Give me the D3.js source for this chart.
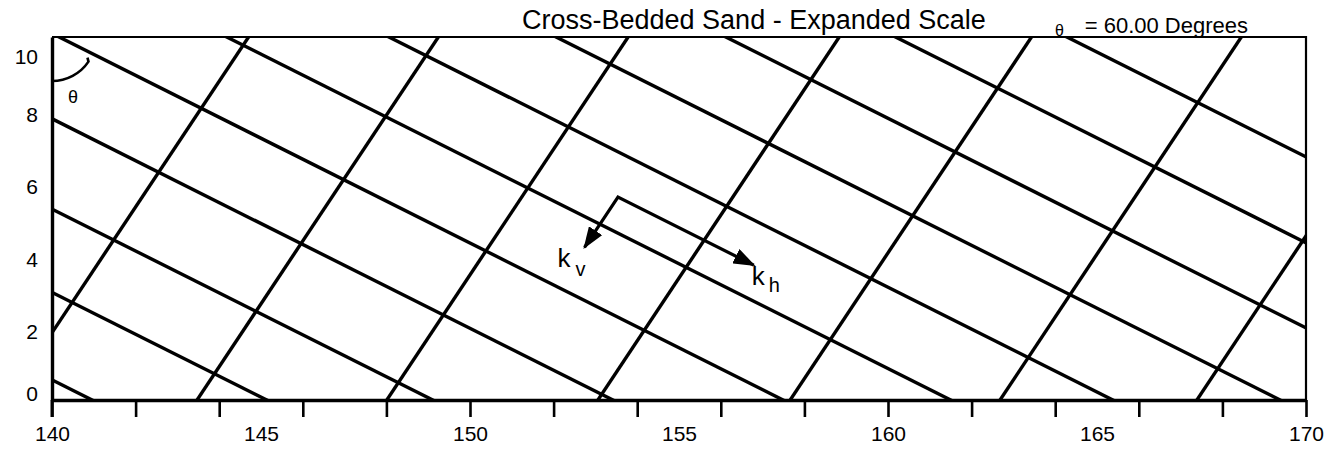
<!DOCTYPE html>
<html>
<head>
<meta charset="utf-8">
<script src="https://cdn.jsdelivr.net/npm/d3@7"></script>
<style>
  html, body { margin: 0; padding: 0; background: #fff; }
  svg { display: block; font-family: "Liberation Sans", Arial, Helvetica, sans-serif; }
</style>
</head>
<body>
<svg id="chart" width="1330" height="451"></svg>
<script>
// Bedding geometry: dip angle of the cross-beds and the two line families
const thetaDeg = 60;                 // angle between vertical and bedding planes
const xDomain = [140, 170];
const yDomain = [0, 10];

// x where each bedding plane (dipping family) crosses y = 0
const beddingIntercepts = [140.96, 145.14, 149.11, 153.42, 157.49, 161.5, 165.38, 169.38, 173.44, 177.5, 181.6];
// x where each cross line (perpendicular family) crosses y = 0
const crossIntercepts = [138.93, 143.47, 148.01, 153.06, 157.66, 162.68, 167.39];

// axis ticks and labels
const xTickValues = [140, 142, 144, 146, 148, 150, 152, 154, 156, 158, 160, 162, 164, 166, 168, 170];
const xLabelValues = [140, 145, 150, 155, 160, 165, 170];
const yLabelValues = [0, 2, 4, 6, 8, 10];

// permeability direction arrows: common origin, lengths along k_h and k_v
const arrowOrigin = [153.54, 5.59];
const khLength = 3.75;
const kvLength = 1.6;

const titleText = "Cross-Bedded Sand - Expanded Scale";
const angleText = "= 60.00 Degrees";

const svg = d3.select("#chart");
const margin = { left: 52, right: 24, top: 37, bottom: 51 };
const W = 1330, H = 451;

const x = d3.scaleLinear().domain(xDomain).range([margin.left, W - margin.right]);
const y = d3.scaleLinear().domain(yDomain).range([H - margin.bottom, margin.top]);

const dipRad = (90 - thetaDeg) * Math.PI / 180;  // bedding dips 30 deg below horizontal
const tDip = Math.tan(dipRad);
const tCross = 1 / tDip;

svg.append("defs").append("clipPath").attr("id", "plotClip")
  .append("rect")
  .attr("x", x(xDomain[0])).attr("y", y(yDomain[1]))
  .attr("width", x(xDomain[1]) - x(xDomain[0]))
  .attr("height", y(yDomain[0]) - y(yDomain[1]));

const line = d3.line().x(d => x(d[0])).y(d => y(d[1]));

const grid = svg.append("g").attr("clip-path", "url(#plotClip)")
  .attr("fill", "none").attr("stroke", "#000").attr("stroke-width", 3.4)
  .attr("stroke-linecap", "butt");

// bedding planes: y = (x0 - x) * tan(dip)
grid.selectAll("path.bed").data(beddingIntercepts).join("path")
  .attr("class", "bed")
  .attr("d", x0 => line([[120, (x0 - 120) * tDip], [190, (x0 - 190) * tDip]]));

// perpendicular family: y = (x - x0) * tan(90 - dip)
grid.selectAll("path.cross").data(crossIntercepts).join("path")
  .attr("class", "cross")
  .attr("d", x0 => line([[x0 - 1, -tCross], [x0 + 8, 8 * tCross]]));

// frame: top and right sides
svg.append("path")
  .attr("d", `M${x(xDomain[0])},${y(yDomain[1])}H${x(xDomain[1])}V${y(yDomain[0])}`)
  .attr("fill", "none").attr("stroke", "#000").attr("stroke-width", 2.2);

// bottom axis: ticks every 2, labels every 5
const xTicks = svg.append("g").attr("transform", `translate(0,${y(0)})`)
  .call(d3.axisBottom(x).tickValues(xTickValues).tickFormat("").tickSize(17).tickSizeOuter(0));
xTicks.select(".domain").attr("stroke", "#000").attr("stroke-width", 3.4);
xTicks.selectAll(".tick line").attr("stroke", "#000").attr("stroke-width", 2.6);

const xLabels = svg.append("g").attr("transform", `translate(0,${y(0)})`)
  .call(d3.axisBottom(x).tickValues(xLabelValues).tickFormat(d3.format("d")).tickSize(0).tickPadding(26));
xLabels.select(".domain").remove();
xLabels.selectAll("text").attr("font-size", 21).attr("fill", "#000")
  .attr("font-family", "Liberation Sans, Arial, sans-serif");

// left axis
const yAxis = svg.append("g").attr("transform", `translate(${x(xDomain[0])},0)`)
  .call(d3.axisLeft(y).tickValues(yLabelValues).tickFormat(d3.format("d")).tickSize(0).tickPadding(14).tickSizeOuter(0));
yAxis.select(".domain").attr("stroke", "#000").attr("stroke-width", 3.4);
yAxis.selectAll("text").attr("font-size", 21).attr("fill", "#000")
  .attr("font-family", "Liberation Sans, Arial, sans-serif")
  .attr("dy", d => d === yDomain[1] ? "1.25em" : d === yDomain[0] ? "0.0em" : "0.55em");

// extend left axis line down to the first tick
svg.append("line")
  .attr("x1", x(xDomain[0])).attr("x2", x(xDomain[0]))
  .attr("y1", y(0)).attr("y2", y(0) + 17)
  .attr("stroke", "#000").attr("stroke-width", 3);

// angle marker at the top-left corner, from vertical toward the bedding plane
const cx = x(xDomain[0]), cy = y(yDomain[1]);
const r = 44;
const a0 = Math.PI / 2, a1 = 34 * Math.PI / 180;
svg.append("path")
  .attr("d", `M${cx + r * Math.cos(a0)},${cy + r * Math.sin(a0)} A${r},${r} 0 0 0 ${cx + r * Math.cos(a1)},${cy + r * Math.sin(a1)} l-1,-4`)
  .attr("fill", "none").attr("stroke", "#000").attr("stroke-width", 2.6);
svg.append("text").attr("x", cx + 16).attr("y", cy + 66)
  .attr("font-size", 18).text("θ");

// k_h / k_v arrows
const defs = svg.select("defs");
defs.append("marker").attr("id", "head")
  .attr("viewBox", "0 0 22 16").attr("refX", 20).attr("refY", 8)
  .attr("markerWidth", 22).attr("markerHeight", 16)
  .attr("markerUnits", "userSpaceOnUse").attr("orient", "auto-start-reverse")
  .append("path").attr("d", "M0,0 L22,8 L0,16 Z").attr("fill", "#000");

const khEnd = [arrowOrigin[0] + khLength * Math.cos(dipRad), arrowOrigin[1] - khLength * Math.sin(dipRad)];
const kvEnd = [arrowOrigin[0] - kvLength * Math.sin(dipRad), arrowOrigin[1] - kvLength * Math.cos(dipRad)];

svg.append("path")
  .attr("d", line([kvEnd, arrowOrigin, khEnd]))
  .attr("fill", "none").attr("stroke", "#000").attr("stroke-width", 3.2)
  .attr("marker-start", "url(#head)").attr("marker-end", "url(#head)");

// k labels
const kv = svg.append("text").attr("x", x(kvEnd[0]) - 27).attr("y", y(kvEnd[1]) + 20);
kv.append("tspan").attr("font-size", 26).text("k");
kv.append("tspan").attr("font-size", 20).attr("dx", 5).attr("dy", 9).text("v");

const kh = svg.append("text").attr("x", x(khEnd[0]) - 2).attr("y", y(khEnd[1]) + 20);
kh.append("tspan").attr("font-size", 26).text("k");
kh.append("tspan").attr("font-size", 20).attr("dx", 4).attr("dy", 7).text("h");

// title and angle annotation
svg.append("text").attr("x", 522).attr("y", 29).attr("font-size", 27).text(titleText);
svg.append("text").attr("x", 1055).attr("y", 36).attr("font-size", 16).text("θ");
svg.append("text").attr("x", 1248).attr("y", 33).attr("text-anchor", "end")
  .attr("font-size", 22).text(angleText);
</script>
</body>
</html>
